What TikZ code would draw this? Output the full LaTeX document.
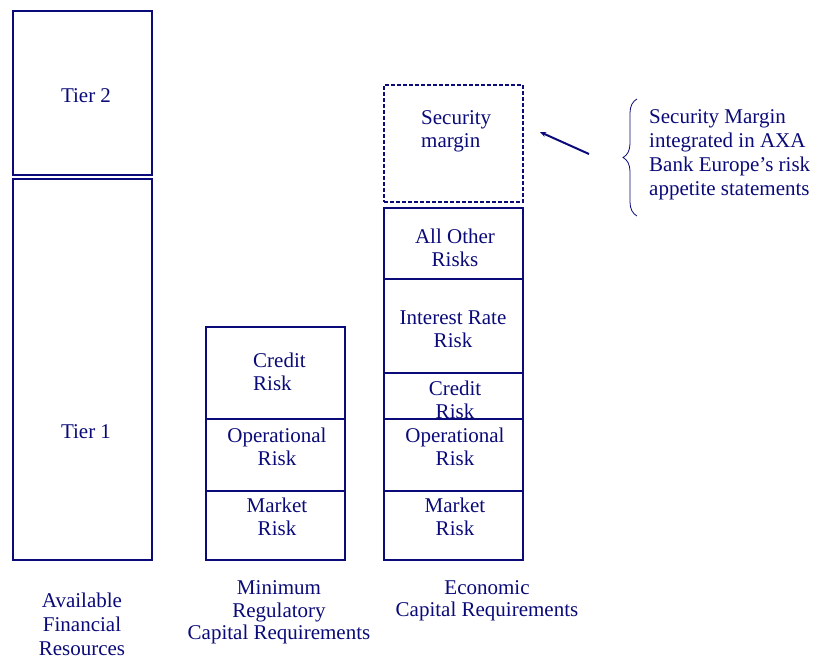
\documentclass[tikz,border=0pt]{standalone}
\usepackage{fontspec}
\setmainfont{Liberation Serif}
\usetikzlibrary{arrows.meta,decorations.pathreplacing}
\definecolor{navy}{RGB}{10,10,120}
\begin{document}
\begin{tikzpicture}[x=1pt,y=-1pt,
  box/.style={draw=navy,line width=1.3pt,inner sep=0pt,outer sep=0pt,minimum width=139pt},
  dbox/.style={draw=navy,line width=2.8pt,dash pattern=on 4pt off 2pt,inner sep=0pt,outer sep=0pt,minimum width=139pt},
  txt/.style={text=navy,inner sep=0pt,align=center,font=\fontsize{21}{23}\selectfont},
  txtl/.style={txt,align=left}]
\useasboundingbox (0,0) rectangle (814,659);
% left column
\node[box,minimum height=164pt] (t2) at (82.5,93) {};
\node[box,minimum height=381pt] (t1) at (82.5,369.5) {};
\node[txt] (t2l) at (86,96) {Tier 2};
\node[txt] (t1l) at (86,432) {Tier 1};
% middle column
\node[box,minimum height=92pt] (mc) at (275.5,373) {};
\node[box,minimum height=72pt] (mo) at (275.5,455) {};
\node[box,minimum height=69pt] (mm) at (275.5,525.5) {};
\node[txtl,anchor=west] (mcl) at (253,371.5) {Credit\\Risk};
\node[txt] (mol) at (277,446.5) {Operational\\Risk};
\node[txt] (mml) at (277,516.5) {Market\\Risk};
% right column
\node[dbox,minimum height=117pt] (es) at (453.5,143.5) {};
\node[box,minimum height=71pt] (ea) at (453.5,243.5) {};
\node[box,minimum height=94pt] (ei) at (453.5,326) {};
\node[box,minimum height=46pt] (ec) at (453.5,396) {};
\node[box,minimum height=72pt] (eo) at (453.5,455) {};
\node[box,minimum height=69pt] (em) at (453.5,525.5) {};
\node[txtl,anchor=west] (esl) at (421,131) {Security\\margin};
\node[txt] (eal) at (455,247.5) {All Other\\Risks};
\node[txt] (eil) at (453,329.5) {Interest Rate\\Risk};
\node[txt] (ecl) at (455,399.5) {Credit\\Risk};
\node[txt] (eol) at (455,446.5) {Operational\\Risk};
\node[txt] (eml) at (455,516.5) {Market\\Risk};
% note
\node[txtl,anchor=west,font=\fontsize{21}{24}\selectfont] (note) at (649,155) {Security Margin\\integrated in AXA\\Bank Europe’s risk\\appetite statements};
\coordinate (bb) at (637,216);
\coordinate (bt) at (637,99);
\draw[navy,line width=0.8pt,decorate,decoration={brace,amplitude=14pt}] (bb) -- (bt);
\coordinate (atail) at (589,154);
\coordinate (ahead) at (540,132);
\draw[navy,line width=2pt,-{Stealth[length=6pt,width=5pt]}] (atail) -- (ahead);
% bottom labels
\node[txt,font=\fontsize{21}{24}\selectfont] (b1) at (82,624) {Available\\Financial\\Resources};
\node[txt,font=\fontsize{21}{22.5}\selectfont] (b2) at (279,612.5) {Minimum\\Regulatory\\Capital Requirements};
\node[txt,font=\fontsize{21}{22.5}\selectfont] (b3) at (487,601) {Economic\\Capital Requirements};
\end{tikzpicture}
\end{document}
